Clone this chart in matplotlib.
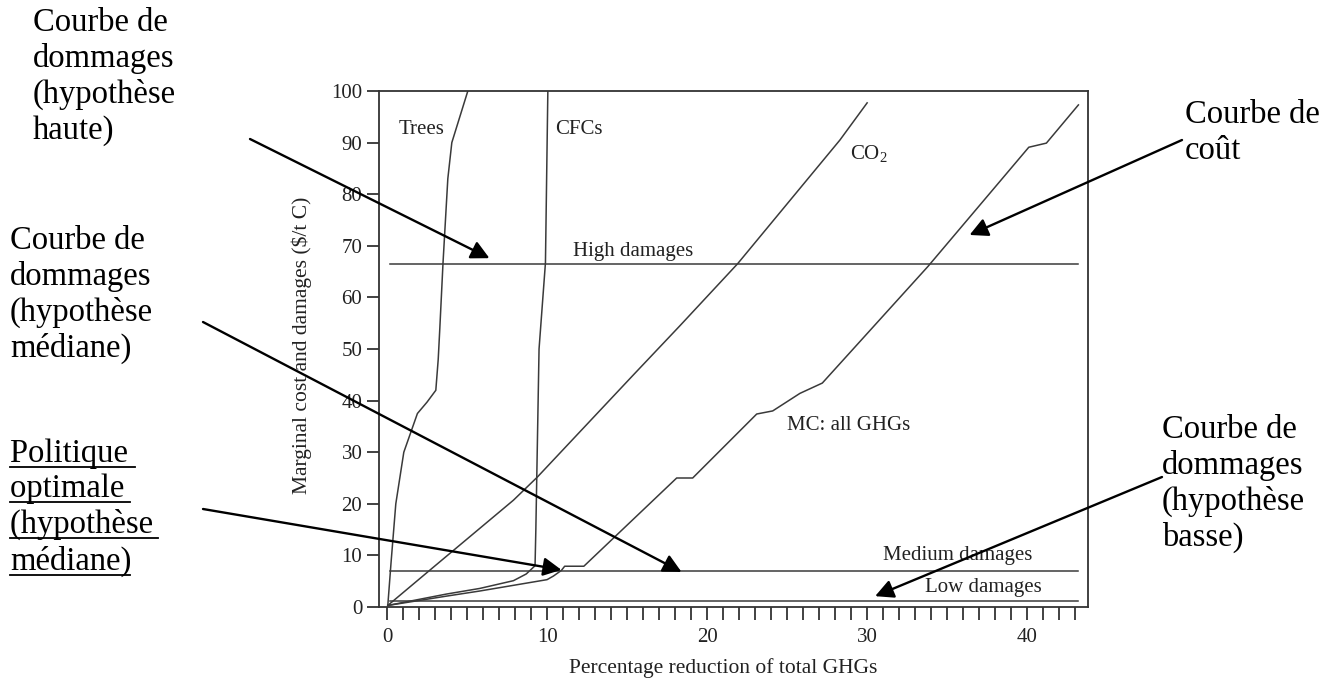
import matplotlib
matplotlib.use('Agg')
import matplotlib.pyplot as plt
from matplotlib.lines import Line2D

# ---------------- data ----------------
trees_x = [0.05, 0.25, 0.55, 1.05, 1.9, 2.5, 3.05, 3.2, 3.3, 3.5, 3.8, 4.05, 5.05]
trees_y = [0.3, 8.5, 20, 30, 37.5, 39.7, 42, 48, 54, 66.7, 83, 90, 100]

cfc_x = [0.05, 3.7, 5.8, 7.9, 8.7, 9.25, 9.3, 9.5, 9.9, 10.05]
cfc_y = [0.3, 2.5, 3.6, 5.1, 6.4, 8.0, 15, 50, 66.7, 100]

co2_x = [0.05, 2.7, 7.9, 9.4, 15.4, 18.3, 21.9, 28.3, 30.0]
co2_y = [0.3, 7.2, 20.7, 25.2, 45.0, 54.5, 66.5, 90.5, 97.7]

mc_x = [0.05, 3.7, 5.8, 7.9, 10.0, 10.4, 10.9, 11.1, 12.3, 18.1, 19.1, 23.1, 24.1,
        25.8, 27.2, 33.8, 40.1, 41.2, 43.2]
mc_y = [0.3, 2.1, 3.1, 4.2, 5.3, 6.0, 7.1, 7.9, 7.9, 25.0, 25.0, 37.4, 38.0,
        41.4, 43.4, 66.0, 89.1, 89.9, 97.3]

damage_names = ['High damages', 'Medium damages', 'Low damages']
damage_levels = [66.5, 7.0, 1.2]
damage_x = [0.2, 43.2]

x_ticks = list(range(0, 44))
x_tick_labels = ['0', '10', '20', '30', '40']
y_ticks = list(range(0, 101, 10))

# ---------------- style ----------------
plt.rcParams['font.family'] = ['Liberation Serif', 'DejaVu Serif']
plt.rcParams['mathtext.fontset'] = 'custom'
plt.rcParams['mathtext.rm'] = 'Liberation Serif'
plt.rcParams['mathtext.it'] = 'Liberation Serif:italic'

W, H = 1328, 682
fig = plt.figure(figsize=(W / 100, H / 100), dpi=100)
ax = fig.add_axes([379 / W, 1 - 607 / H, (1088 - 379) / W, (607 - 91) / H])
ax.set_xlim(-0.5, 43.8)
ax.set_ylim(0, 100)

line_c = '#3a3a3a'
txt_c = '#222222'
lw = 1.1

ax.plot(trees_x, trees_y, color=line_c, lw=lw)
ax.plot(cfc_x, cfc_y, color=line_c, lw=lw)
ax.plot(co2_x, co2_y, color=line_c, lw=lw)
ax.plot(mc_x, mc_y, color=line_c, lw=lw)
for lev in damage_levels:
    ax.plot(damage_x, [lev, lev], color=line_c, lw=lw)

ax.set_xticks(x_ticks)
ax.set_xticklabels([str(t) if str(t) in x_tick_labels else '' for t in x_ticks])
ax.set_yticks(y_ticks)
ax.tick_params(axis='both', direction='out', length=9, width=1.3, color='#333333',
               labelsize=15, labelcolor=txt_c)
ax.tick_params(axis='x', pad=6)
ax.tick_params(axis='y', pad=3)
for s in ax.spines.values():
    s.set_color('#333333')
    s.set_linewidth(1.3)

ax.set_xlabel('Percentage reduction of total GHGs', fontsize=15.5, color=txt_c)
ax.xaxis.set_label_coords((723 - 379) / 709, (607 - 668) / 516)
ax.xaxis.label.set_va('center')
ax.set_ylabel('Marginal cost and damages ($/t C)', fontsize=15.5, color=txt_c)
ax.yaxis.set_label_coords((302 - 379) / 709, (607 - 345) / 516)
ax.yaxis.label.set_va('center')

# curve labels
lab_fs = 15
ax.text(0.7, 92.6, 'Trees', fontsize=lab_fs, color=txt_c, ha='left', va='center')
ax.text(10.5, 92.6, 'CFCs', fontsize=lab_fs, color=txt_c, ha='left', va='center')
ax.text(28.9, 87.8, 'CO$_2$', fontsize=lab_fs, color=txt_c, ha='left', va='center')
ax.text(25.0, 35.1, 'MC: all GHGs', fontsize=lab_fs, color=txt_c, ha='left', va='center')
ax.text(11.6, 68.8, damage_names[0], fontsize=lab_fs, color=txt_c, ha='left', va='center')
ax.text(31.0, 10.0, damage_names[1], fontsize=lab_fs, color=txt_c, ha='left', va='center')
ax.text(33.6, 3.8, damage_names[2], fontsize=lab_fs, color=txt_c, ha='left', va='center')


# ---------------- annotations (French) ----------------
def fp(x, y):
    return (x / W, 1 - y / H)


ann_fs = 23.5


def block(x, baselines, lines, underline_widths=None):
    for i, (b, t) in enumerate(zip(baselines, lines)):
        fig.text(*fp(x, b), t, fontsize=ann_fs, color='black', ha='left', va='baseline')
        if underline_widths is not None:
            uy = b + 5
            fig.add_artist(Line2D([x / W, (x + underline_widths[i]) / W],
                                  [1 - uy / H, 1 - uy / H], color='black', lw=1.3))


block(33, [31, 67, 103, 139], ['Courbe de', 'dommages', '(hypothèse', 'haute)'])
block(10, [249, 285, 321, 357], ['Courbe de', 'dommages', '(hypothèse', 'médiane)'])
block(10, [462, 497, 533, 570], ['Politique ', 'optimale ', '(hypothèse ', 'médiane)'],
      underline_widths=[125, 120, 148, 120])
block(1185, [123, 159], ['Courbe de', 'coût'])
block(1162, [438, 474, 510, 546], ['Courbe de', 'dommages', '(hypothèse', 'basse)'])

arrow_props = dict(arrowstyle='-|>,head_length=0.55,head_width=0.28', mutation_scale=20,
                   color='black', lw=1.7, shrinkA=0, shrinkB=0)
arrows = [
    ((6.4, 67.6), (250, 139)),
    ((18.4, 6.8), (203, 322)),
    ((10.9, 7.2), (203, 509)),
    ((36.4, 72.1), (1182, 140)),
    ((30.5, 2.1), (1162, 477)),
]
for tip, start in arrows:
    ax.annotate('', xy=tip, xycoords='data', xytext=fp(*start), textcoords='figure fraction',
                arrowprops=arrow_props, annotation_clip=False)

fig.savefig('out.png', dpi=100)
